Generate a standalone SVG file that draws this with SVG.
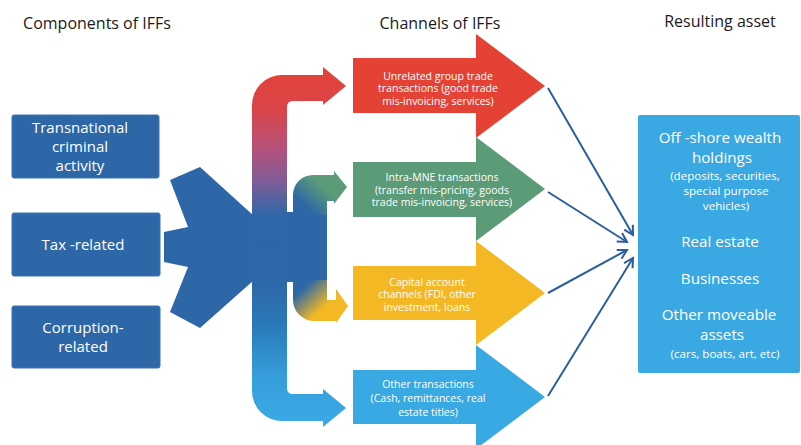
<svg xmlns="http://www.w3.org/2000/svg" width="801" height="445" viewBox="0 0 801 445">
<defs>
<style>
.hdr{font-family:"Open Sans","Liberation Sans",sans-serif;font-size:16px;fill:#1a1a1a;text-anchor:middle}
.bx{font-family:"Open Sans","Liberation Sans",sans-serif;font-size:15px;fill:#ffffff;text-anchor:middle}
.big{font-family:"Open Sans","Liberation Sans",sans-serif;font-size:15.2px;fill:#ffffff;text-anchor:middle}
.lbl{font-family:"Open Sans","Liberation Sans",sans-serif;font-size:10.5px;fill:#ffffff;text-anchor:middle}
.sm{font-family:"Open Sans","Liberation Sans",sans-serif;font-size:11.6px;fill:#ffffff;text-anchor:middle}
.comp{fill:#2d67a7;stroke:#3a74b2;stroke-width:1}
.conn{stroke:#2b5e9e;stroke-width:2;fill:none}
</style>
<linearGradient id="gPipe" gradientUnits="userSpaceOnUse" x1="0" y1="70" x2="0" y2="425">
<stop offset="0" stop-color="#e2433a"/>
<stop offset="0.11" stop-color="#da4448"/>
<stop offset="0.22" stop-color="#b6527a"/>
<stop offset="0.32" stop-color="#7a5d98"/>
<stop offset="0.41" stop-color="#2f67a8"/>
<stop offset="0.6" stop-color="#2d68a8"/>
<stop offset="0.72" stop-color="#2a7ab9"/>
<stop offset="0.86" stop-color="#359dda"/>
<stop offset="1" stop-color="#3aaae6"/>
</linearGradient>
<linearGradient id="gGreen" gradientUnits="userSpaceOnUse" x1="298" y1="208" x2="324" y2="180">
<stop offset="0.15" stop-color="#2d67a7"/>
<stop offset="0.85" stop-color="#5b9b78"/>
</linearGradient>
<linearGradient id="gYellow" gradientUnits="userSpaceOnUse" x1="298" y1="284" x2="326" y2="314">
<stop offset="0.15" stop-color="#2d67a7"/>
<stop offset="0.85" stop-color="#f4b824"/>
</linearGradient>
<marker id="arr" markerUnits="userSpaceOnUse" markerWidth="12" markerHeight="12" viewBox="0 0 12 12" refX="10" refY="6" orient="auto" overflow="visible">
<path d="M1,1 L10,6 L1,11" fill="none" stroke="#2b5e9e" stroke-width="2"/>
</marker>
</defs>
<rect width="801" height="445" fill="#ffffff"/>

<g id="headers">
<text class="hdr" x="97" y="29">Components of IFFs</text>
<text class="hdr" x="440" y="29">Channels of IFFs</text>
<text class="hdr" x="720" y="27">Resulting asset</text>
</g>

<g id="node-transnational">
<rect class="comp" x="12" y="115" width="147" height="63" rx="2"/>
<text class="bx" x="80" y="133">Transnational</text>
<text class="bx" x="80" y="152">criminal</text>
<text class="bx" x="80" y="171">activity</text>
</g>
<g id="node-tax">
<rect class="comp" x="12" y="213" width="148" height="63" rx="2"/>
<text class="bx" x="83" y="250">Tax -related</text>
</g>
<g id="node-corruption">
<rect class="comp" x="12" y="306" width="148" height="62" rx="2"/>
<text class="bx" x="83" y="333">Corruption-</text>
<text class="bx" x="83" y="352">related</text>
</g>

<g id="node-hub">
<polygon fill="#2d67a7" points="170,180 200,167 254,216 254,280 200,328 170,312 188,267 164,262 164,232 188,227"/>
<rect x="285" y="212" width="42" height="70" fill="#2d67a7"/>
<path fill="url(#gPipe)" d="M252 105 A30 30 0 0 1 282 75 L323 75 L323 67 L346 86 L323 105 L323 101 L293 101 Q287 101 287 107 L287 388 Q287 394 293 394 L323 394 L323 389 L346 408 L323 427 L323 421 L282 421 A30 30 0 0 1 252 391 Z"/>
<path fill="url(#gGreen)" d="M293 215 L293 195 A20 20 0 0 1 313 175 L334 175 L334 171 L347 187 L334 204 L334 201 L327 201 L327 215 Z"/>
<path fill="url(#gYellow)" d="M293 280 L327 280 L327 300 L336 300 L336 289 L348 306 L336 323 L336 321 L314 321 A21 21 0 0 1 293 300 Z"/>
</g>

<g id="node-unrelated">
<polygon fill="#e34234" points="353,58 476,58 476,34 545,86 476,138 476,113 353,113"/>
<text class="lbl" x="438" y="79.7">Unrelated group trade</text>
<text class="lbl" x="438" y="92.3">transactions (good trade</text>
<text class="lbl" x="438" y="104.9">mis-invoicing, services)</text>
</g>
<g id="node-intra">
<polygon fill="#5b9b78" points="353,162 476,162 476,137 545,189 476,241 476,217 353,217"/>
<text class="lbl" x="442" y="181">Intra-MNE transactions</text>
<text class="lbl" x="442" y="193.6">(transfer mis-pricing, goods</text>
<text class="lbl" x="442" y="206.2">trade mis-invoicing, services)</text>
</g>
<g id="node-capital">
<polygon fill="#f4b824" points="353,266 476,266 476,241 545,293 476,345 476,320 353,320"/>
<text class="lbl" x="427" y="285.8">Capital account</text>
<text class="lbl" x="427" y="298.4">channels (FDI, other</text>
<text class="lbl" x="427" y="311">investment, loans</text>
</g>
<g id="node-other">
<polygon fill="#38a9e3" points="353,370 476,370 476,345 545,397 476,449 476,424 353,424"/>
<text class="lbl" x="428" y="388">Other transactions</text>
<text class="lbl" x="428" y="402">(Cash, remittances, real</text>
<text class="lbl" x="428" y="416">estate titles)</text>
</g>

<g id="node-assets">
<rect x="638" y="115" width="162" height="258" rx="2" fill="#3aa8e2"/>
<text class="big" x="720" y="143">Off -shore wealth</text>
<text class="big" x="722" y="163">holdings</text>
<text class="sm" x="725" y="179.5">(deposits, securities,</text>
<text class="sm" x="726" y="194.5">special purpose</text>
<text class="sm" x="726" y="209.5">vehicles)</text>
<text class="big" x="720" y="247">Real estate</text>
<text class="big" x="720" y="284">Businesses</text>
<text class="big" x="719" y="320">Other moveable</text>
<text class="big" x="722" y="340">assets</text>
<text class="sm" x="725" y="357.5">(cars, boats, art, etc)</text>
</g>

<g id="connectors">
<line class="conn" x1="548" y1="88" x2="633" y2="235" marker-end="url(#arr)"/>
<line class="conn" x1="548" y1="192" x2="627" y2="242" marker-end="url(#arr)"/>
<line class="conn" x1="548" y1="293" x2="627" y2="250" marker-end="url(#arr)"/>
<line class="conn" x1="548" y1="396" x2="633" y2="258" marker-end="url(#arr)"/>
</g>
</svg>
